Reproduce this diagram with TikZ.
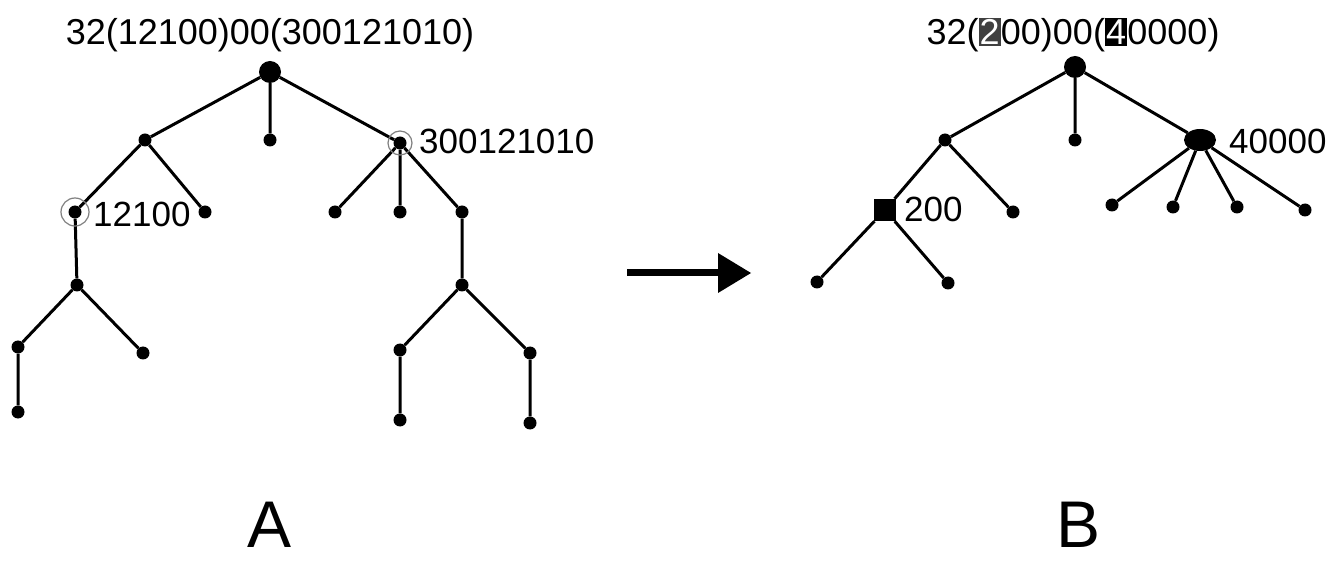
\documentclass[tikz,border=0pt]{standalone}
\usepackage{fontspec}
\setmainfont{Liberation Sans}
\usetikzlibrary{shapes.geometric}
\tikzset{
  dot/.style={circle,fill=black,inner sep=0pt,minimum size=13pt},
  bigdot/.style={circle,fill=black,inner sep=0pt,minimum size=22pt},
  edge/.style={line width=3pt},
  ring/.style={draw=gray,line width=1.2pt},
  lbl/.style={anchor=west,inner sep=0pt,font=\fontsize{35}{40}\selectfont},
  ttl/.style={inner sep=0pt,font=\fontsize{36}{42}\selectfont},
  big/.style={inner sep=0pt,anchor=base,font=\fontsize{66}{70}\selectfont}
}
\newcommand{\boxdig}[2]{{\setlength{\fboxsep}{1.2pt}\colorbox{#1}{\textcolor{white}{#2}}}}
\begin{document}
\begin{tikzpicture}[x=1pt,y=-1pt]
\useasboundingbox (0,0) rectangle (1334,561);
% ---------- Tree A ----------
\node[bigdot] (r) at (270,72) {};
\node[dot] (a1) at (145,140) {};
\node[dot] (a2) at (270,140) {};
\node[dot] (a3) at (400,143) {};
\node[dot] (b1) at (75,212) {};
\node[dot] (b2) at (205,212) {};
\node[dot] (c1) at (77,285) {};
\node[dot] (d1) at (18,347) {};
\node[dot] (d2) at (143,353) {};
\node[dot] (e1) at (18,412) {};
\node[dot] (f1) at (335,212) {};
\node[dot] (f2) at (400,212) {};
\node[dot] (f3) at (462,212) {};
\node[dot] (g1) at (462,285) {};
\node[dot] (h1) at (400,350) {};
\node[dot] (h2) at (530,353) {};
\node[dot] (i1) at (400,420) {};
\node[dot] (i2) at (530,423) {};
\draw[edge] (r)--(a1) (r)--(a2) (r)--(a3)
  (a1)--(b1) (a1)--(b2) (b1)--(c1) (c1)--(d1) (c1)--(d2) (d1)--(e1)
  (a3)--(f1) (a3)--(f2) (a3)--(f3) (f3)--(g1) (g1)--(h1) (g1)--(h2)
  (h1)--(i1) (h2)--(i2);
\draw[ring] (b1.center) circle (14);
\draw[ring] (a3.center) circle (12);
\node[ttl] (tA) at (270,35) {32(12100)00(300121010)};
\node[lbl] (lb1) at (93,214) {12100};
\node[lbl] (la3) at (419,141) {300121010};
\node[big] (A) at (270,547) {A};
% ---------- Arrow ----------
\coordinate (s) at (627,273);
\coordinate (t) at (718,273);
\draw[line width=7pt] (s)--(t);
\fill (718,253) -- (751,273) -- (718,293) -- cycle;
% ---------- Tree B ----------
\node[bigdot] (R) at (1075,67) {};
\node[dot] (A1) at (945,140) {};
\node[dot] (A2) at (1075,140) {};
\node[ellipse,fill=black,inner sep=0pt,minimum width=32pt,minimum height=22pt] (A3) at (1200,140) {};
\node[rectangle,fill=black,inner sep=0pt,minimum size=22pt] (B1) at (885,210) {};
\node[dot] (B2) at (1013,212) {};
\node[dot] (C1) at (817,282) {};
\node[dot] (C2) at (948,283) {};
\node[dot] (D1) at (1112,205) {};
\node[dot] (D2) at (1173,207) {};
\node[dot] (D3) at (1237,207) {};
\node[dot] (D4) at (1305,210) {};
\draw[edge] (R)--(A1) (R)--(A2) (R)--(A3)
  (A1)--(B1) (A1)--(B2) (B1)--(C1) (B1)--(C2)
  (A3)--(D1) (A3)--(D2) (A3)--(D3) (A3)--(D4);
\node[ttl] (tB) at (1073,35) {32(\boxdig{black!75}{2}00)00(\boxdig{black}{4}0000)};
\node[lbl] (lB1) at (904,209) {200};
\node[lbl] (lA3) at (1229,141) {40000};
\node[big] (B) at (1078,547) {B};
\end{tikzpicture}
\end{document}
